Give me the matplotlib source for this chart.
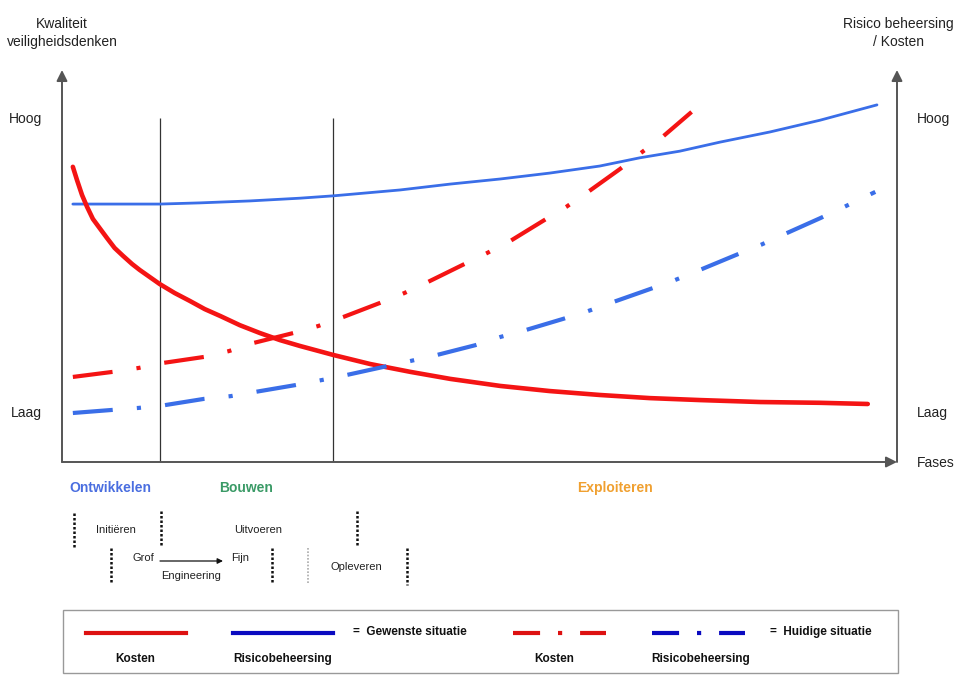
import matplotlib.pyplot as plt
from matplotlib import transforms
from matplotlib.patches import Rectangle

plt.rcParams['font.family'] = ['Liberation Sans', 'DejaVu Sans']

# phases along the x axis (0-100 scale)
fase_namen = ['Ontwikkelen', 'Bouwen', 'Exploiteren']
fase_grenzen = [0, 11.7, 32.5, 100]
fase_kleuren = ['#4a6ee0', '#3a9a66', '#f0a030']

# levels on the y axis (0-100 scale)
niveau_waarden = [12.8, 87.8]
niveau_labels = ['Laag', 'Hoog']

# gewenste situatie
gewenst_risico_x = [1.3, 6.9, 11.7, 16.5, 22.5, 28.5, 32.5, 40.5, 46.5, 52.5, 58.4,
                    64.4, 69.2, 74.0, 78.8, 84.8, 90.8, 97.6]
gewenst_risico_y = [65.8, 65.8, 65.8, 66.1, 66.6, 67.3, 67.9, 69.4, 70.9, 72.2, 73.7,
                    75.5, 77.6, 79.3, 81.6, 84.2, 87.2, 91.1]

gewenst_kosten_x = [1.3, 1.8, 2.4, 3.0, 3.7, 4.6, 5.4, 6.3, 7.3, 8.4, 9.3, 10.5, 11.7,
                    13.5, 15.3, 17.1, 19.0, 21.3, 23.7, 26.1, 28.5, 32.5, 36.9, 41.7,
                    46.5, 52.5, 58.4, 64.4, 70.4, 76.4, 83.6, 90.8, 96.5]
gewenst_kosten_y = [75.3, 71.9, 68.1, 65.1, 62.0, 59.4, 57.1, 54.6, 52.6, 50.5, 49.0, 47.2,
                    45.4, 43.1, 41.1, 39.0, 37.2, 34.9, 32.9, 31.1, 29.6, 27.3, 25.0,
                    23.0, 21.2, 19.4, 18.1, 17.1, 16.3, 15.8, 15.3, 15.1, 14.8]

# huidige situatie
huidig_kosten_x = [1.3, 6.1, 9.2, 12.2, 17.0, 20.0, 23.0, 27.7, 30.7, 33.7, 38.1, 41.0,
                   43.8, 48.0, 50.9, 53.7, 57.6, 60.4, 63.0, 66.8, 69.3, 71.9, 75.4]
huidig_kosten_y = [21.7, 23.0, 24.0, 25.3, 26.8, 28.3, 30.4, 32.9, 34.7, 37.0, 40.6, 43.1,
                   45.9, 50.3, 53.3, 56.4, 61.5, 65.1, 68.9, 74.7, 78.8, 82.9, 89.3]

huidig_risico_x = [1.3, 6.1, 9.2, 12.3, 17.0, 20.2, 23.2, 27.9, 31.1, 34.1, 41.8, 44.9,
                   49.5, 52.5, 55.6, 60.0, 63.0, 66.0, 70.4, 73.4, 76.4, 80.7, 83.7,
                   86.6, 90.8, 93.7, 97.4]
huidig_risico_y = [12.5, 13.3, 13.8, 14.5, 16.1, 16.8, 17.9, 19.6, 20.9, 22.2, 25.8, 27.3,
                   29.8, 31.9, 33.7, 36.5, 38.5, 40.8, 44.1, 46.4, 49.0, 52.8, 55.4,
                   58.2, 62.2, 65.1, 68.9]

ROOD = '#f41414'
BLAUW = '#3a6ee8'
AS = '#555555'

W, H = 955, 675
fig = plt.figure(figsize=(W / 100, H / 100), dpi=100)

ax = fig.add_axes([62 / W, (H - 462) / H, 835 / W, 392 / H])
ax.set_xlim(0, 100)
ax.set_ylim(0, 100)
ax.patch.set_alpha(0)
for s in ax.spines.values():
    s.set_visible(False)
ax.set_xticks([])
ax.set_yticks(niveau_waarden, niveau_labels)
ax.tick_params(axis='y', length=0, pad=14.5, labelsize=10, labelcolor='#222',
               labelright=True)

# axes with arrows
pijl = dict(arrowstyle='-|>', color=AS, lw=1.4, mutation_scale=16, shrinkA=0, shrinkB=0)
ax.annotate('', xy=(0, 1), xytext=(0, 0), xycoords='axes fraction', arrowprops=pijl)
ax.annotate('', xy=(1, 1), xytext=(1, 0), xycoords='axes fraction', arrowprops=pijl)
ax.annotate('', xy=(1, 0), xytext=(0, 0), xycoords='axes fraction', arrowprops=pijl)

ax.vlines(fase_grenzen[1:3], 0, niveau_waarden[1], color='#333333', lw=0.9)

ax.plot(gewenst_risico_x, gewenst_risico_y, color=BLAUW, lw=2.0,
        solid_capstyle='round', solid_joinstyle='round')
ax.plot(gewenst_kosten_x, gewenst_kosten_y, color=ROOD, lw=3.3,
        solid_capstyle='round', solid_joinstyle='round')
ax.plot(huidig_kosten_x, huidig_kosten_y, color=ROOD, lw=3.0,
        dashes=(9.6, 5.8, 1.0, 5.8))
ax.plot(huidig_risico_x, huidig_risico_y, color=BLAUW, lw=3.0,
        dashes=(9.6, 5.8, 1.0, 5.8))

# phase names under the x axis
tr = transforms.blended_transform_factory(ax.transData, ax.transAxes)
for i, naam in enumerate(fase_namen):
    midden = (fase_grenzen[i] + fase_grenzen[i + 1]) / 2
    ax.text(midden, -0.066, naam, transform=tr, ha='center', va='center',
            fontsize=10, fontweight='bold', color=fase_kleuren[i])

# overlay in pixel coordinates for the remaining annotations
ov = fig.add_axes([0, 0, 1, 1])
ov.set_xlim(0, W)
ov.set_ylim(H, 0)
ov.axis('off')

ov.text(62, 33, 'Kwaliteit\nveiligheidsdenken', ha='center', va='center',
        fontsize=10, color='#222', linespacing=1.45)
ov.text(898, 33, 'Risico beheersing\n/ Kosten', ha='center', va='center',
        fontsize=10, color='#222', linespacing=1.45)
ov.text(917, 463, 'Fases', ha='left', va='center', fontsize=10, color='#222')

# sub-phases
stippel = dict(color='#111111', lw=1.8, linestyle=(0, (1, 0.8)))
for x, y0, y1 in [(74, 513, 548), (161, 511, 546), (357, 511, 547),
                  (111, 548, 583), (272, 548, 583), (407, 548, 585)]:
    ov.plot([x, x], [y0, y1], **stippel)
ov.plot([308, 308], [548, 583], color='#aaaaaa', lw=1.2, linestyle=(0, (1, 1)))

klein = dict(fontsize=8, color='#222', ha='center', va='center')
ov.text(116, 530, 'Initiëren', **klein)
ov.text(258, 530, 'Uitvoeren', **klein)
ov.text(143, 558, 'Grof', **klein)
ov.text(240, 558, 'Fijn', **klein)
ov.text(191, 576, 'Engineering', **klein)
ov.text(356, 567, 'Opleveren', **klein)
ov.annotate('', xy=(223, 561), xytext=(160, 561),
            arrowprops=dict(arrowstyle='-|>', color='#111', lw=0.9,
                            mutation_scale=8, shrinkA=0, shrinkB=0))

# legend box
ov.add_patch(Rectangle((63, 610), 835, 63, fill=False, ec='#999999', lw=1.0))
ov.plot([86, 186], [633, 633], color='#dd1111', lw=3.0)
ov.plot([233, 333], [633, 633], color='#0a0ac0', lw=3.0)
ov.plot([513, 606], [633, 633], color='#dd1111', lw=3.0, dashes=(6.5, 4.3, 1.0, 4.3))
ov.plot([652, 745], [633, 633], color='#0a0ac0', lw=3.0, dashes=(6.5, 4.3, 1.0, 4.3))

vet = dict(fontsize=8.5, fontweight='bold', color='#111', va='center')
ov.text(353, 632, '=  Gewenste situatie', ha='left', **vet)
ov.text(770, 632, '=  Huidige situatie', ha='left', **vet)
ov.text(135, 659, 'Kosten', ha='center', **vet)
ov.text(283, 659, 'Risicobeheersing', ha='center', **vet)
ov.text(554, 659, 'Kosten', ha='center', **vet)
ov.text(701, 659, 'Risicobeheersing', ha='center', **vet)

fig.savefig('out.png', dpi=100)
